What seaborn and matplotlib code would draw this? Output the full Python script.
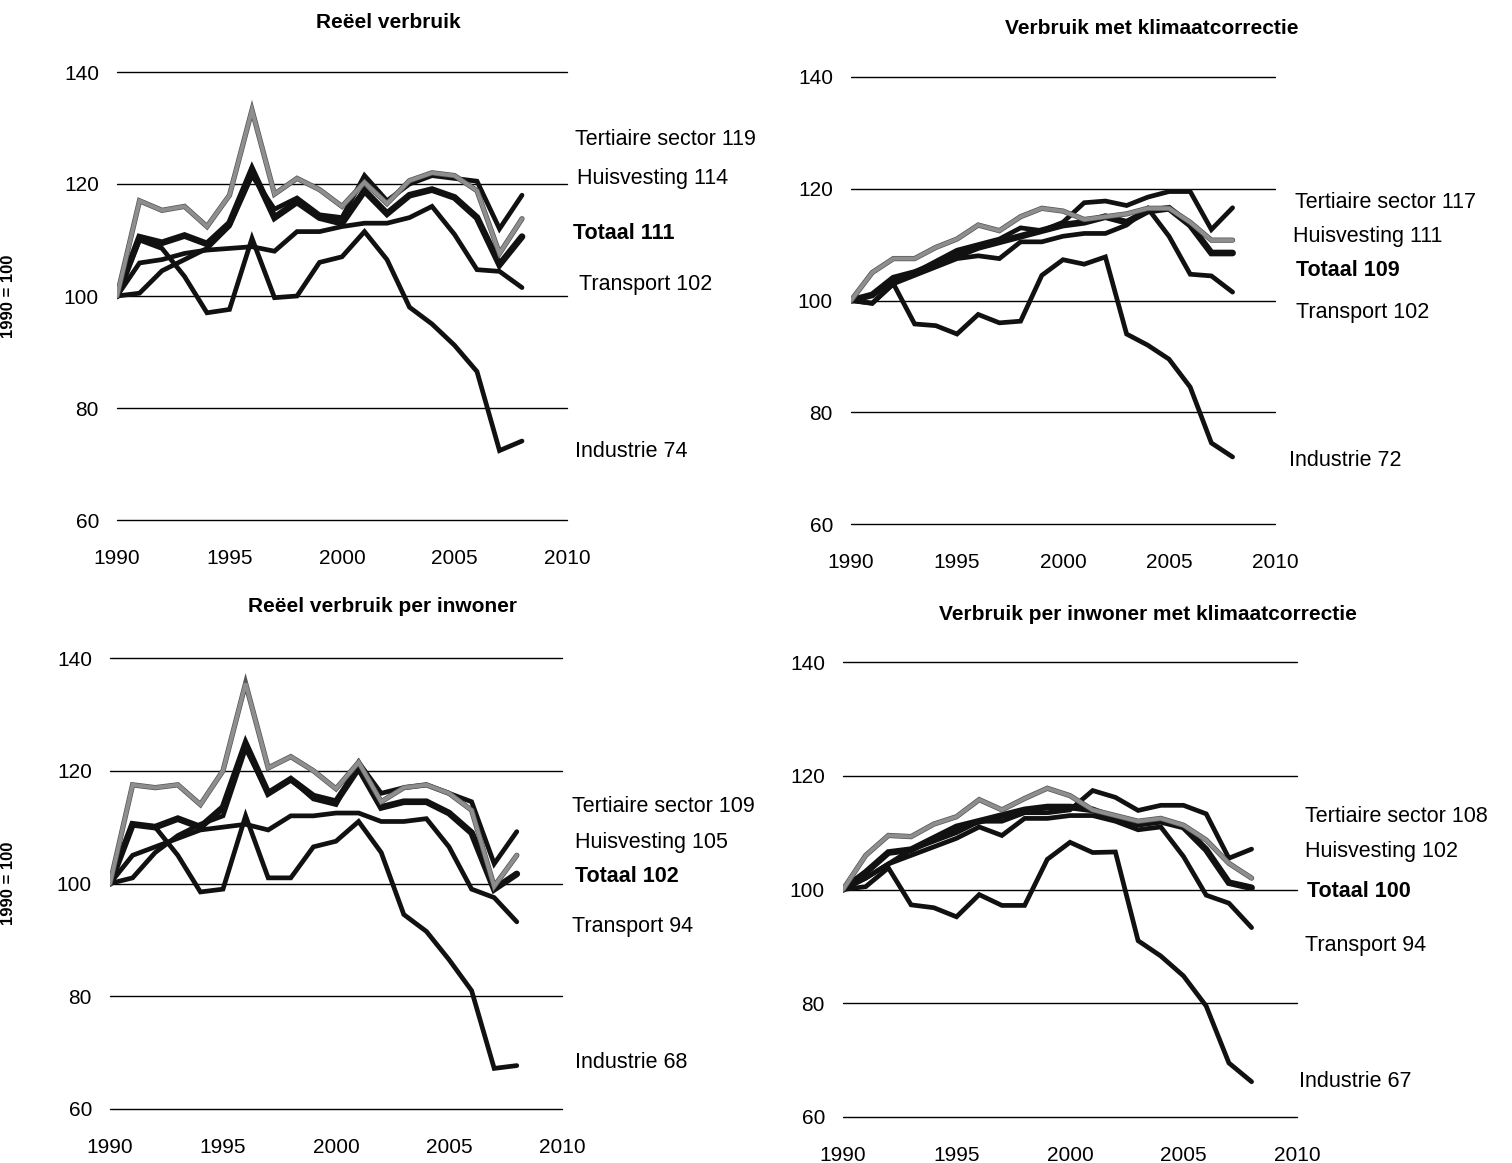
import pandas as pd
import matplotlib.pyplot as plt
import matplotlib.patheffects as pe
import seaborn as sns

years = list(range(1990, 2009))

# Reëel verbruik
reeel_industrie = [100, 110, 108.5, 103.5, 97, 97.6, 110.3, 99.7, 100, 106, 107, 111.5, 106.5, 98, 95, 91.2, 86.5, 72.4, 74.1]
reeel_transport = [100, 105.9, 106.5, 107.6, 108.2, 108.5, 108.8, 108, 111.5, 111.5, 112.4, 113, 113, 114, 116, 111, 104.7, 104.4, 101.5]
reeel_tertiair = [100, 100.5, 104.5, 106.5, 108.5, 112.5, 121.5, 115.5, 117.5, 114.5, 114, 121.5, 117, 120, 121.5, 121, 120.5, 112, 118]
reeel_totaal = [100, 110.5, 109.5, 110.8, 109.3, 113, 122.6, 114, 116.8, 114, 113, 118.8, 114.7, 118, 119, 117.6, 114, 105.6, 110.6]
reeel_huis = [100, 117, 115.3, 116, 112.4, 118, 133.2, 118.2, 121, 119, 116, 120.3, 116.5, 120.6, 122, 121.5, 118.8, 107.6, 113.8]

# Verbruik met klimaatcorrectie
klim_industrie = [100, 99.5, 103, 95.8, 95.5, 94, 97.5, 96, 96.3, 104.5, 107.3, 106.5, 107.8, 94, 92, 89.5, 84.5, 74.5, 72]
klim_transport = [100, 99.5, 103, 104.5, 106, 107.5, 108, 107.5, 110.5, 110.5, 111.5, 112, 112, 113.5, 116.5, 111.5, 104.7, 104.4, 101.5]
klim_tertiair = [100, 101, 103.5, 105, 107, 109, 110, 111, 113, 112.5, 114, 117.5, 117.8, 117, 118.5, 119.5, 119.5, 112.7, 116.6]
klim_totaal = [100, 101, 104, 105, 106.5, 108, 109.5, 110.5, 111.5, 112.5, 113.5, 114, 115, 114, 116, 116.5, 113.5, 108.5, 108.5]
klim_huis = [100, 105, 107.5, 107.5, 109.5, 111, 113.5, 112.5, 115, 116.5, 116, 114.5, 115, 115.5, 116.5, 116.5, 114, 110.8, 110.8]

# Reëel verbruik per inwoner
inw_industrie = [100, 110.5, 110, 105, 98.5, 99, 112, 101, 101, 106.5, 107.5, 111, 105.5, 94.5, 91.5, 86.5, 81, 67.2, 67.7]
inw_transport = [100, 105, 106.5, 108, 109.5, 110, 110.5, 109.5, 112, 112, 112.5, 112.5, 111, 111, 111.5, 106.5, 99, 97.5, 93.2]
inw_tertiair = [100, 101, 105.5, 108.5, 110.5, 112, 124, 116, 118.5, 115, 114, 121.5, 116, 117, 117.5, 116, 114.5, 103.5, 109.2]
inw_totaal = [100, 110.5, 110, 111.5, 110, 113.5, 124.8, 116, 118.5, 115.5, 114.5, 120.5, 113.5, 114.5, 114.5, 112.5, 109, 99, 101.7]
inw_huis = [100, 117.5, 117, 117.5, 114, 120, 135.5, 120.5, 122.5, 120, 116.8, 121.5, 114.5, 117, 117.5, 116, 113, 99.5, 105]

# Verbruik per inwoner met klimaatcorrectie
inwk_industrie = [100, 100.5, 103.8, 97.3, 96.8, 95.2, 99.1, 97.2, 97.2, 105.3, 108.3, 106.5, 106.6, 91, 88.3, 84.8, 79.5, 69.5, 66.2]
inwk_transport = [100, 102, 104.5, 106, 107.5, 109, 111, 109.5, 112.5, 112.5, 113, 113, 112, 110.5, 111, 105.8, 99, 97.6, 93.3]
inwk_tertiair = [100, 102, 104.5, 107, 108.5, 110, 112, 112, 113.5, 113.5, 114, 117.4, 116.2, 113.9, 114.8, 114.8, 113.3, 105.5, 107.1]
inwk_totaal = [100, 103, 106.5, 107, 109, 111, 112, 113, 114, 114.5, 114.5, 114, 112.5, 111.5, 112, 111, 107, 101.2, 100.3]
inwk_huis = [100, 106, 109.5, 109.3, 111.5, 112.8, 115.8, 114, 116, 117.8, 116.5, 114, 113, 112, 112.5, 111.3, 108.7, 104.6, 102]

sectors = ['Industrie', 'Transport', 'Tertiaire sector', 'Totaal', 'Huisvesting']
label_order = ['Tertiaire sector', 'Huisvesting', 'Totaal', 'Transport', 'Industrie']

titles = ['Reëel verbruik', 'Verbruik met klimaatcorrectie',
          'Reëel verbruik per inwoner', 'Verbruik per inwoner met klimaatcorrectie']
end_labels = [
    [119, 114, 111, 102, 74],
    [117, 111, 109, 102, 72],
    [109, 105, 102, 94, 68],
    [108, 102, 100, 94, 67],
]
series = [
    [reeel_industrie, reeel_transport, reeel_tertiair, reeel_totaal, reeel_huis],
    [klim_industrie, klim_transport, klim_tertiair, klim_totaal, klim_huis],
    [inw_industrie, inw_transport, inw_tertiair, inw_totaal, inw_huis],
    [inwk_industrie, inwk_transport, inwk_tertiair, inwk_totaal, inwk_huis],
]

# layout (pixels of the 1512x1163 canvas)
W, H = 1512, 1163
axes_px = [(117, 72, 567, 520), (851, 77, 1275, 524), (110, 658, 562, 1109), (843, 662, 1297, 1117)]
title_px = [(388, 22), (1152, 28), (383, 607), (1148, 614)]
# label positions (x in years, y in index units) in label_order
label_pos = [
    [(2010.36, 127.9), (2010.44, 121.0), (2010.27, 111.1), (2010.53, 102.1), (2010.36, 72.3)],
    [(2010.94, 117.6), (2010.85, 111.4), (2010.99, 105.3), (2010.99, 97.8), (2010.66, 71.3)],
    [(2010.44, 113.6), (2010.58, 107.2), (2010.58, 101.2), (2010.44, 92.3), (2010.58, 68.2)],
    [(2010.35, 112.9), (2010.35, 106.6), (2010.44, 99.6), (2010.35, 90.1), (2010.09, 66.2)],
]

sns.set_theme(style='white')
plt.rcParams['font.family'] = ['Liberation Sans', 'DejaVu Sans']
plt.rcParams['text.color'] = 'black'

fig = plt.figure(figsize=(W / 100, H / 100), dpi=100)

for i in range(4):
    x0, y0, x1, y1 = axes_px[i]
    ax = fig.add_axes([x0 / W, 1 - y1 / H, (x1 - x0) / W, (y1 - y0) / H])

    df = pd.DataFrame({
        'year': years * len(sectors),
        'value': sum(series[i], []),
        'sector': [s for s in sectors for _ in years],
    })

    for s in sectors:
        sub = df[df['sector'] == s]
        if s == 'Huisvesting':
            line = sns.lineplot(data=sub, x='year', y='value', ax=ax, color='#8e8e8e',
                                lw=2.8, legend=False).lines[-1]
            line.set_path_effects([pe.Stroke(linewidth=3.8, foreground='#555555'), pe.Normal()])
        else:
            lw = 4.8 if s == 'Totaal' else 3.4
            sns.lineplot(data=sub, x='year', y='value', ax=ax, color='#111111',
                         lw=lw, legend=False)
    for ln in ax.lines:
        ln.set_solid_joinstyle('miter')

    ax.set_xlim(1990, 2010)
    ax.set_ylim(60, 140)
    ax.set_xticks([1990, 1995, 2000, 2005, 2010])
    ax.set_yticks([60, 80, 100, 120, 140])
    for v in [60, 80, 100, 120, 140]:
        ax.axhline(v, color='black', lw=1.0, zorder=0, clip_on=False)
    for sp in ax.spines.values():
        sp.set_visible(False)
    ax.tick_params(axis='both', length=0, labelsize=15, colors='black')
    ax.tick_params(axis='x', pad=21)
    ax.tick_params(axis='y', pad=13)
    ax.set_xlabel('')
    ax.set_ylabel('')

    for j, name in enumerate(label_order):
        lx, ly = label_pos[i][j]
        ax.text(lx, ly, f'{name} {end_labels[i][j]}', fontsize=15.5, ha='left', va='center',
                color='black', fontweight='bold' if name == 'Totaal' else 'normal', clip_on=False)

    tx, ty = title_px[i]
    fig.text(tx / W, 1 - ty / H, titles[i], fontsize=15, fontweight='bold',
             ha='center', va='center', color='black')

# y-axis captions, cut by the left edge as in the scan
for cy in [296, 883]:
    fig.text(9 / W, 1 - cy / H, '1990 = 100', rotation=90, fontsize=12, fontweight='bold',
             ha='center', va='center', color='black')

fig.savefig('out.png', dpi=100)
